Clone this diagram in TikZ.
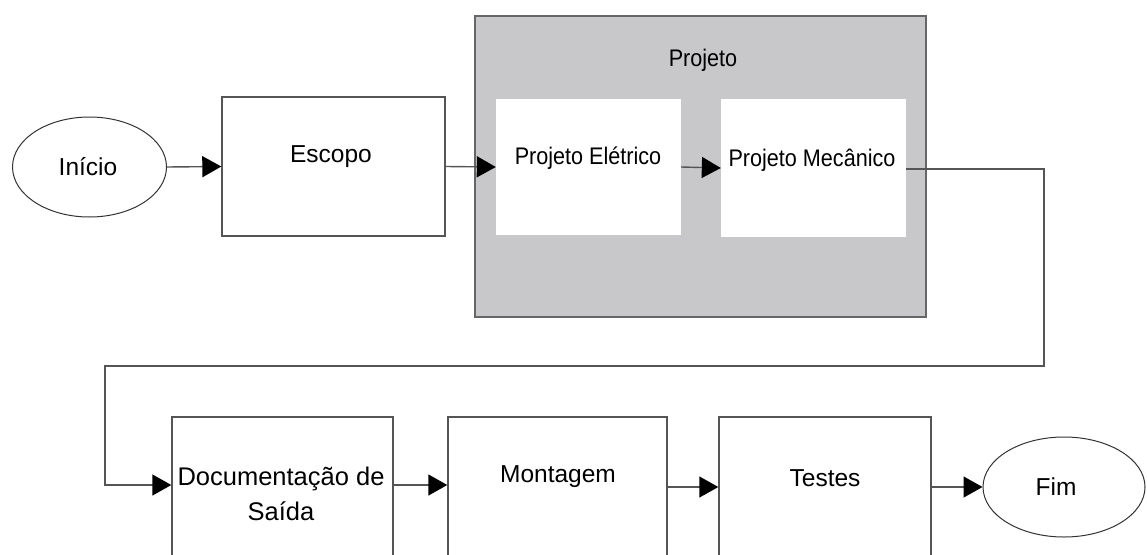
\documentclass[tikz,border=0pt]{standalone}
\usepackage{fontspec}
\setmainfont{Liberation Sans}
\usetikzlibrary{arrows.meta,shapes.geometric}
\definecolor{edge}{HTML}{555555}
\definecolor{panel}{HTML}{C8C8CA}
\newcommand{\narrowtext}[1]{\scalebox{0.9}[1]{#1}}
\tikzset{
  box/.style={draw=edge, line width=1.4pt, fill=white, inner sep=0pt},
  oval/.style={ellipse, draw=black!80, line width=1pt, fill=white, inner sep=0pt},
  inner/.style={fill=white, draw=none, inner sep=0pt},
  group/.style={draw=edge!90, line width=1.6pt, fill=panel, inner sep=0pt},
  txt/.style={font=\fontsize{24.5}{35}\selectfont, inner sep=0pt, align=center},
  subtxt/.style={font=\fontsize{24}{30}\selectfont, inner sep=0pt, align=center},
  flow/.style={draw=edge, line width=1.4pt, -{Triangle[length=19pt,width=21pt,color=black]}},
}
\begin{document}
\begin{tikzpicture}[x=1pt,y=-1pt]
\useasboundingbox (0,0) rectangle (1147,554);
\clip (0,0) rectangle (1147,554);
% upper row
\node[oval, minimum width=154pt, minimum height=100pt] (inicio) at (89.5,167) {};
\node[txt] (tinicio) at (88,167) {Início};
\node[box, minimum width=223pt, minimum height=139pt] (escopo) at (333.5,166.5) {};
\node[txt] (tescopo) at (331,157) {Escopo};
% project group with its two steps
\node[group, minimum width=451pt, minimum height=301pt] (projeto) at (700.5,166.5) {};
\node[subtxt] (tprojeto) at (703,60) {\narrowtext{Projeto}};
\node[inner, minimum width=185pt, minimum height=136pt] (eletrico) at (588.5,167) {};
\node[subtxt] (teletrico) at (588,158) {\narrowtext{Projeto Elétrico}};
\node[inner, minimum width=185pt, minimum height=138pt] (mecanico) at (813.5,168) {};
\node[subtxt] (tmecanico) at (812,160) {\narrowtext{Projeto Mecânico}};
% lower row
\node[box, minimum width=221pt, minimum height=140pt] (doc) at (282.5,487) {};
\node[txt, font=\fontsize{25.5}{35}\selectfont] (tdoc) at (281,494) {Documentação de\\Saída};
\node[box, minimum width=219pt, minimum height=140pt] (montagem) at (557.5,487) {};
\node[txt] (tmontagem) at (558,477) {Montagem};
\node[box, minimum width=212pt, minimum height=140pt] (testes) at (825,487) {};
\node[txt] (ttestes) at (825,478) {Testes};
\node[oval, minimum width=162pt, minimum height=100pt] (fim) at (1064,487) {};
\node[txt] (tfim) at (1056,487) {Fim};
% connectors
\coordinate (r1) at (1044,169);
\coordinate (r2) at (1044,366);
\coordinate (r3) at (105,366);
\coordinate (r4) at (105,485);
\draw[flow] (inicio.east) -- (escopo.west);
\draw[flow] (escopo.east) -- (eletrico.west);
\draw[flow] (eletrico.east) -- (mecanico.west);
\draw[flow] (mecanico.east |- r1) -- (r1) -- (r2) -- (r3) -- (r4) -- (doc.west |- r4);
\draw[flow] (doc.east |- r4) -- (montagem.west |- r4);
\draw[flow] (montagem.east) -- (testes.west);
\draw[flow] (testes.east) -- (fim.west);
\end{tikzpicture}
\end{document}
